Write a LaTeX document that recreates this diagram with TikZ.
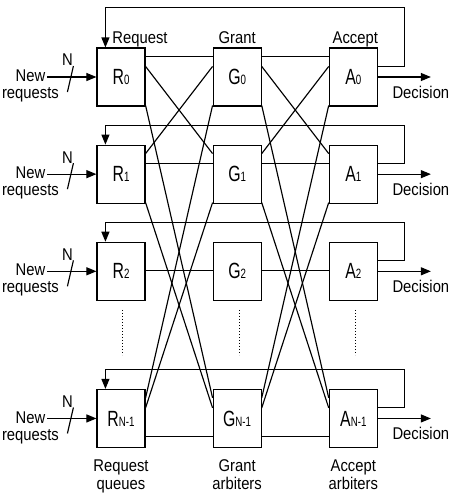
\documentclass[tikz,border=0pt]{standalone}
\usepackage{fontspec}
\setmainfont[FakeStretch=0.87]{Liberation Sans}
\newfontfamily\boxfont[FakeStretch=0.72]{Liberation Sans}
\usetikzlibrary{positioning,calc,arrows.meta}
\newcommand{\lowidx}[1]{{\fontsize{13.5}{14}\selectfont #1}}
\tikzset{arb node/.style={rectangle,draw,minimum width=48pt,minimum height=58pt,inner sep=0pt,font=\boxfont\fontsize{22}{24}\selectfont},
  lbl/.style={font=\fontsize{17}{18}\selectfont,inner sep=1pt},
  feed/.style={-{Triangle[length=10pt,width=8pt]}},
}

\begin{document}
\begin{tikzpicture}[node distance = 38pt and 67pt, line width=1.15pt]
	\useasboundingbox (-121pt,77pt) rectangle (330pt,-416pt);
	\node[arb node] (R0) at (0,0) {R\lowidx{0}};
	\node[arb node] (G0) [right = of R0] {G\lowidx{0}};
	\node[arb node] (A0) [right = of G0] {A\lowidx{0}};
	\node[arb node] (R1) [below = of R0] {R\lowidx{1}};
	\node[arb node] (G1) [below = of G0] {G\lowidx{1}};
	\node[arb node] (A1) [below = of A0] {A\lowidx{1}};
	\node[arb node] (R2) [below = of R1] {R\lowidx{2}};
	\node[arb node] (G2) [below = of G1] {G\lowidx{2}};
	\node[arb node] (A2) [below = of A1] {A\lowidx{2}};
	\node[arb node] (Rn) [below = 88pt of R2] {R\lowidx{N-1}};
	\node[arb node] (Gn) [below = 88pt of G2] {G\lowidx{N-1}};
	\node[arb node] (An) [below = 88pt of A2] {A\lowidx{N-1}};
	
	% column titles
	\node[lbl, anchor=base] (hreq) at ($(R0.north)+(19pt,4pt)$) {Request};
	\node[lbl, anchor=base] (hgnt) at ($(G0.north)+(0,4pt)$) {Grant};
	\node[lbl, anchor=base] (hacc) at ($(A0.north)+(2pt,4pt)$) {Accept};
	\node[lbl, align=center] (qreq) [below = 10pt of Rn] {Request\\queues};
	\node[lbl, align=center] (qgnt) [below = 10pt of Gn] {Grant\\arbiters};
	\node[lbl, align=center] (qacc) [below = 10pt of An] {Accept\\arbiters};
	
	% request -> grant -> accept links
	\foreach \i/\j/\s/\t in {0/0/9pt/9pt, 0/1/19pt/9pt, 0/n/58pt/9pt,
	                         1/0/9pt/19pt, 1/1/19pt/19pt, 1/n/58pt/19pt,
	                         n/0/9pt/58pt, n/1/19pt/58pt, n/n/48pt/48pt, 2/2/29pt/29pt}
	{
		\draw ($(R\i.north east)+(0,-\s)$) -- ($(G\j.north west)+(0,-\t)$);
		\draw ($(G\i.north east)+(0,-\s)$) -- ($(A\j.north west)+(0,-\t)$);
	}
	
	% inputs, decisions and feedback
	\foreach \i/\h in {0/40pt, 1/19pt, 2/19pt, n/19pt}
	{
		\coordinate (t\i) at ($(A\i.north east)+(27pt,\h)$);
		\coordinate (d\i) at ($(A\i.east)+(53pt,0)$);
		\coordinate (in\i) at ($(R\i.west)+(-49pt,0)$);
		\draw[feed] ($(A\i.north east)+(0,-19pt)$) -| (t\i) -| ($(R\i.north west)+(9pt,0)$);
		\draw[feed] (A\i.east) -- (d\i);
		\draw[feed] (in\i) -- (R\i.west);
		\draw ($(R\i.west)+(-29pt,-15pt)$) -- ($(R\i.west)+(-23pt,11pt)$);
		\node[lbl] (w\i) at ($(R\i.west)+(-29pt,17pt)$) {N};
		\node[lbl, align=center, font=\fontsize{17}{17}\selectfont] (new\i) at ($(R\i.west)+(-66pt,-9pt)$) {New\\requests};
		\node[lbl] (dec\i) at ($(A\i.east)+(43pt,-15pt)$) {Decision};
	}
	
	% dotted gaps
	\foreach \col in {R,G,A}
		\draw[line width=1pt, dash pattern=on 1pt off 2pt] ($(\col2.south)+(2pt,-9pt)$) -- ($(\col n.north)+(2pt,34pt)$);
\end{tikzpicture}
\end{document}
